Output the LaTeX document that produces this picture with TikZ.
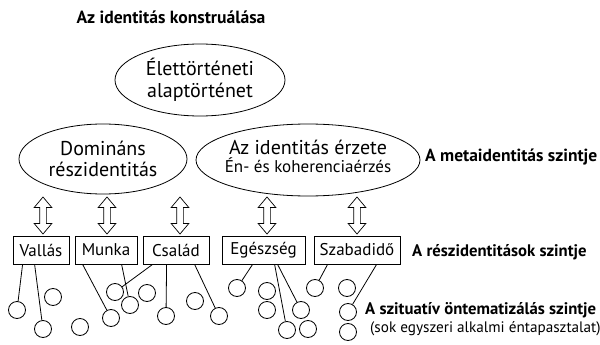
\documentclass[tikz,border=0pt]{standalone}
\usepackage{fontspec}
\setmainfont{PT Sans}
\usetikzlibrary{shapes.geometric,shapes.arrows}
\begin{document}
\begin{tikzpicture}[x=1pt,y=-1pt,
  ell/.style={draw,ellipse,inner sep=0pt,line width=0.8pt,align=center},
  big/.style={font=\fontsize{20}{22}\selectfont},
  lvl/.style={font=\fontsize{16.7}{18}\bfseries\selectfont,anchor=west,inner sep=0pt},
  box/.style={draw,line width=0.8pt,minimum height=28pt,inner sep=0pt,font=\fontsize{17}{20}\selectfont},
  dbl/.style={draw,double arrow,rotate=90,line width=0.7pt,minimum height=37pt,inner sep=3pt,
    double arrow head extend=5.5pt,double arrow tip angle=80},
  circ/.style={draw,circle,line width=0.8pt,minimum size=17pt,inner sep=0pt},
  con/.style={line width=0.8pt}]
\useasboundingbox (0,0) rectangle (600,345);
\node[font=\fontsize{17.6}{20}\bfseries\selectfont] (title) at (171,17) {Az identitás konstruálása};
\node[ell,big,minimum width=170pt,minimum height=72pt] (top) at (200,80) {Élettörténeti\\alaptörténet};
\node[ell,big,minimum width=168pt,minimum height=70pt] (dom) at (103,159) {Domináns\\[-1pt]részidentitás};
\node[ell,minimum width=224pt,minimum height=72pt] (erz) at (308,160) {};
\node[align=center,inner sep=0pt] (erztext) at (308,156) {{\fontsize{20}{22}\selectfont Az identitás érzete}\\[2pt]{\fontsize{17}{20}\selectfont Én- és koherenciaérzés}};
\node[lvl,font=\fontsize{17.5}{18}\bfseries\selectfont] (meta) at (425,157) {A metaidentitás szintje};
\node[box,minimum width=56pt] (vallas) at (41,250) {Vallás};
\node[box,minimum width=62pt] (munka) at (106,250) {Munka};
\node[box,minimum width=66pt] (csalad) at (176,250) {Család};
\node[box,minimum width=83pt] (eg) at (263.5,250) {Egészség};
\node[box,minimum width=86pt] (szab) at (357,250) {Szabadidő};
\node[lvl] (resz) at (412,252) {A részidentitások szintje};
\node[lvl] (szit) at (365,310) {A szituatív öntematizálás szintje};
\node[font=\fontsize{15.2}{17}\selectfont,anchor=west,inner sep=0pt] (sok) at (370,329) {(sok egyszeri alkalmi éntapasztalat)};
\node[dbl] (a1) at (43,215.5) {};
\node[dbl] (a2) at (107,215.5) {};
\node[dbl] (a3) at (180,215.5) {};
\node[dbl] (a4) at (267,215.5) {};
\node[dbl] (a5) at (357,215.5) {};
\foreach \n/\x/\y in {c1/17/310,c2/53/297,c3/43/329,c4/80/327,c5/111/318,c6/115/292,c7/130/305,
  c8/147/293,c9/166/316,c10/195/301,c11/219/316,c12/237/288,c13/267/291,c14/267/310,
  c15/287/330,c16/301/310,c17/308/329,c18/315/288,c19/347/288,c20/348/312,c21/348/332}
  {\node[circ] (\n) at (\x,\y) {};}
\draw[con] ([xshift=10pt]vallas.south west) -- (c1);
\draw[con] ([xshift=22pt]vallas.south west) -- (c3);
\draw[con] ([xshift=8pt]munka.south west) -- (c5);
\draw[con] ([xshift=47pt]munka.south west) -- (c7);
\draw[con] ([xshift=10pt]csalad.south west) -- (c6);
\draw[con] ([xshift=24pt]csalad.south west) -- (c9);
\draw[con] ([xshift=52pt]csalad.south west) -- (c11);
\draw[con] ([xshift=31pt]eg.south west) -- (c12);
\draw[con] ([xshift=53pt]eg.south west) -- (c15);
\draw[con] ([xshift=56pt]eg.south west) -- (c16);
\draw[con] ([xshift=14pt]szab.south west) -- (c18);
\draw[con] ([xshift=63pt]szab.south west) -- (c20);
\end{tikzpicture}
\end{document}
